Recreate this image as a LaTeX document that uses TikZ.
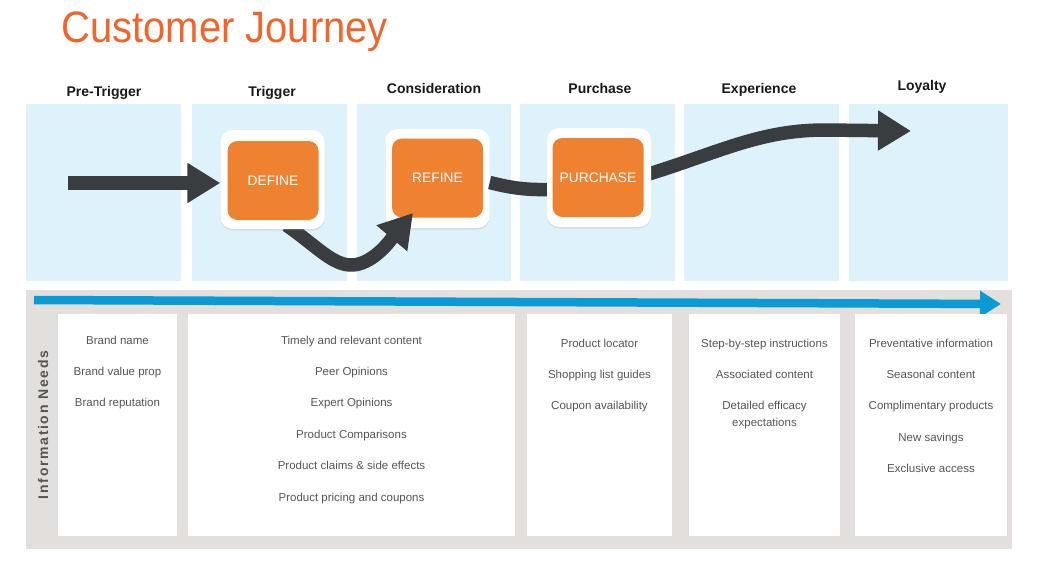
\documentclass[tikz,border=0pt]{standalone}
\usepackage{fontspec}
\setmainfont{Liberation Sans}
\newfontfamily\spacedfont[LetterSpace=12]{Liberation Sans}
\usetikzlibrary{arrows.meta,shadows,calc}
\definecolor{titleorange}{HTML}{F0652B}
\definecolor{boxorange}{HTML}{EF8231}
\definecolor{panelblue}{HTML}{DDF2FB}
\definecolor{darkarrow}{HTML}{3A3D3F}
\definecolor{bluearrow}{HTML}{0A9BD6}
\definecolor{graybg}{HTML}{E2DFDC}
\definecolor{itemgray}{HTML}{555555}
\pgfdeclarelayer{front}
\pgfsetlayers{main,front}
\begin{document}
\begin{tikzpicture}[x=1pt,y=-1pt,
  panel/.style={fill=panelblue},
  outerbox/.style={draw=none,fill=white,rounded corners=12pt,minimum width=104pt,minimum height=99pt,
    drop shadow={shadow xshift=0pt,shadow yshift=-1.5pt,opacity=0.18}},
  innerbox/.style={fill=boxorange,rounded corners=10pt,minimum width=91pt,minimum height=79pt,
    text=white,font=\fontsize{13.8}{16}\selectfont},
  hdr/.style={anchor=base,font=\bfseries\fontsize{14}{16}\selectfont,text=black!90},
  item/.style={anchor=base,font=\fontsize{11.5}{13}\selectfont,text=itemgray,inner sep=0pt},
  bigarrow/.style={draw=darkarrow,line width=13.5pt,-{Triangle[length=33pt,width=38pt]}},
  shaft/.style={draw=darkarrow,line width=13.5pt},
  whitebox/.style={fill=white}]
\useasboundingbox (0,0) rectangle (1038,565);
\fill[white] (0,0) rectangle (1038,565);

% title
\node[anchor=base west,text=titleorange,font=\fontsize{40}{44}\selectfont,inner sep=0pt] (title) at (61,42) {\scalebox{1}[1.1]{Customer Journey}};

% stage panels
\fill[panel] (26,104) rectangle (181,281);
\fill[panel] (192,104) rectangle (347,281);
\fill[panel] (357,104) rectangle (511,281);
\fill[panel] (520,104) rectangle (675,281);
\fill[panel] (684,104) rectangle (839,281);
\fill[panel] (849,104) rectangle (1008,281);

% stage headers
\node[hdr] (h1) at (104,96) {Pre-Trigger};
\node[hdr] (h2) at (272,96) {Trigger};
\node[hdr] (h3) at (434,93) {Consideration};
\node[hdr] (h4) at (600,93) {Purchase};
\node[hdr] (h5) at (759,93) {Experience};
\node[hdr] (h6) at (922,90) {Loyalty};

% boxes
\begin{pgfonlayer}{front}
\node[outerbox] (define) at (272.5,179.5) {};
\node[innerbox] (definein) at (273,180.5) {DEFINE};
\node[outerbox] (purchase) at (599,177.5) {};
\node[innerbox] (purchasein) at (598,177.5) {PURCHASE};
\end{pgfonlayer}
\node[outerbox] (refine) at (437.5,178.5) {};
\node[innerbox] (refinein) at (437.5,178) {REFINE};

% journey arrows
\coordinate (s1) at (68,183);
\coordinate (t2) at (413,213);
\coordinate (t4) at (911,131);
\draw[bigarrow] (s1) -- (s1 -| define.west);
\draw[bigarrow] ($(define.south)+(14,-4)$) .. controls (322,250) and (338,272) .. (362,263)
   .. controls (380,256) and (392,238) .. (t2);
\draw[shaft] ($(refine.east)+(0,4)$) .. controls (512,188) and (525,190) .. ($(purchase.west)+(4,12)$);
\draw[bigarrow] ($(purchase.east)+(-4,-3)$) .. controls (720,152) and (760,130) .. (825,130) -- (t4);

% information needs area
\fill[graybg] (26,290) rectangle (1012,549);
\coordinate (b0) at (34,300);
\coordinate (b1) at (1001,304);
\draw[draw=bluearrow,line width=8.5pt,-{Triangle[length=21pt,width=25pt]}] (b0) -- (b1);

\fill[whitebox] (58,314) rectangle (177,536);
\fill[whitebox] (188,314) rectangle (515,536);
\fill[whitebox] (527,314) rectangle (672,536);
\fill[whitebox] (689,314) rectangle (840,536);
\fill[whitebox] (855,314) rectangle (1007,536);

\node[rotate=90,text=itemgray,font=\spacedfont\bfseries\fontsize{14}{16}\selectfont] (infoneeds) at (43,425) {Information Needs};

% column 1
\node[item] (c1a) at (117.5,344) {Brand name};
\node[item] (c1b) at (117.5,375.4) {Brand value prop};
\node[item] (c1c) at (117.5,406.8) {Brand reputation};
% column 2
\node[item] (c2a) at (351.5,344) {Timely and relevant content};
\node[item] (c2b) at (351.5,375.4) {Peer Opinions};
\node[item] (c2c) at (351.5,406.8) {Expert Opinions};
\node[item] (c2d) at (351.5,438.2) {Product Comparisons};
\node[item] (c2e) at (351.5,469.6) {Product claims \& side effects};
\node[item] (c2f) at (351.5,501) {Product pricing and coupons};
% column 3
\node[item] (c3a) at (599.5,347) {Product locator};
\node[item] (c3b) at (599.5,378.4) {Shopping list guides};
\node[item] (c3c) at (599.5,409.8) {Coupon availability};
% column 4
\node[item] (c4a) at (764.5,347) {Step-by-step instructions};
\node[item] (c4b) at (764.5,378.4) {Associated content};
\node[item] (c4c) at (764.5,409.8) {Detailed efficacy};
\node[item] (c4d) at (764.5,426.5) {expectations};
% column 5
\node[item] (c5a) at (931,347) {Preventative information};
\node[item] (c5b) at (931,378.4) {Seasonal content};
\node[item] (c5c) at (931,409.8) {Complimentary products};
\node[item] (c5d) at (931,441.2) {New savings};
\node[item] (c5e) at (931,472.6) {Exclusive access};
\end{tikzpicture}
\end{document}
